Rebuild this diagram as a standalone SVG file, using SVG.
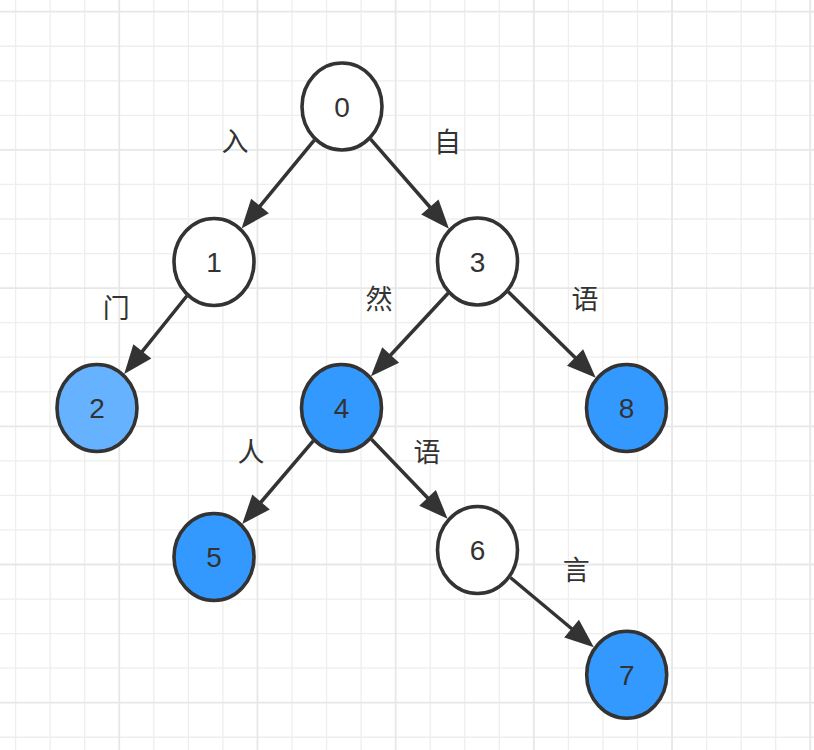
<svg xmlns="http://www.w3.org/2000/svg" width="814" height="750" viewBox="0 0 814 750">
<style>
.minor{stroke:#eeeeee;stroke-width:1.3;fill:none}
.major{stroke:#e7e7e7;stroke-width:1.8;fill:none}
.node ellipse{stroke:#333333;stroke-width:3.6}
.white{fill:#ffffff}
.blue{fill:#3399ff}
.light{fill:#66b2ff}
.num{font-family:"Liberation Sans",Arial,sans-serif;font-size:28px;fill:#333333;text-anchor:middle}
.edge{stroke:#333333;stroke-width:3.5;fill:none;marker-end:url(#arrow)}
.lbl{font-family:"Noto Sans CJK SC","Noto Sans CJK JP",sans-serif;font-size:27px;fill:#333333;text-anchor:middle}
</style>
<defs>
<marker id="arrow" markerUnits="userSpaceOnUse" markerWidth="32" markerHeight="26" refX="1" refY="11.5" orient="auto" overflow="visible">
<path d="M0,0 L29,11.5 L0,23 Z" fill="#333333"/>
</marker>
</defs>
<rect width="814" height="750" fill="#ffffff"/>
<g id="grid">
<path class="minor" d="M15.6,0V750M50.15,0V750M84.7,0V750M153.8,0V750M188.35,0V750M222.9,0V750M292,0V750M326.55,0V750M361.1,0V750M430.2,0V750M464.75,0V750M499.3,0V750M568.4,0V750M602.95,0V750M637.5,0V750M706.6,0V750M741.15,0V750M775.7,0V750M0,46.25H814M0,80.8H814M0,115.35H814M0,184.45H814M0,219H814M0,253.55H814M0,322.65H814M0,357.2H814M0,391.75H814M0,460.85H814M0,495.4H814M0,529.95H814M0,599.05H814M0,633.6H814M0,668.15H814M0,737.25H814"/>
<path class="major" d="M119.25,0V750M257.45,0V750M395.65,0V750M533.85,0V750M672.05,0V750M810.25,0V750M0,11.7H814M0,149.9H814M0,288.1H814M0,426.3H814M0,564.5H814M0,702.7H814"/>
</g>
<g id="connectors">
<line class="edge" x1="314.4" y1="140.1" x2="259.39" y2="206.78"/>
<line class="edge" x1="370.55" y1="139.16" x2="430.52" y2="207.76"/>
<line class="edge" x1="186.78" y1="295.97" x2="141.73" y2="352.18"/>
<line class="edge" x1="448.06" y1="293.21" x2="389.99" y2="355.77"/>
<line class="edge" x1="508.24" y1="291.72" x2="575.79" y2="358.15"/>
<line class="edge" x1="313.27" y1="440.98" x2="260.44" y2="502.75"/>
<line class="edge" x1="371.4" y1="439.21" x2="428.23" y2="498.57"/>
<line class="edge" x1="510.37" y1="577.47" x2="572.35" y2="629.27"/>
</g>
<g id="labels">
<text class="lbl" x="235" y="150.5">入</text>
<text class="lbl" x="447.5" y="151.5">自</text>
<text class="lbl" x="116.3" y="317.8">门</text>
<text class="lbl" x="379" y="308.8">然</text>
<text class="lbl" x="585" y="308.8">语</text>
<text class="lbl" x="251" y="461.5">人</text>
<text class="lbl" x="427" y="461.8">语</text>
<text class="lbl" x="576.3" y="579.8">言</text>
</g>
<g id="node0" class="node"><ellipse class="white" cx="342" cy="106.5" rx="40" ry="43.5"/><text class="num" x="342" y="116.5">0</text></g>
<g id="node1" class="node"><ellipse class="white" cx="214" cy="262" rx="40" ry="43.5"/><text class="num" x="214" y="272">1</text></g>
<g id="node3" class="node"><ellipse class="white" cx="477.5" cy="261.5" rx="40" ry="43.5"/><text class="num" x="477.5" y="271.5">3</text></g>
<g id="node2" class="node"><ellipse class="light" cx="97" cy="408" rx="40" ry="43.5"/><text class="num" x="97" y="418">2</text></g>
<g id="node4" class="node"><ellipse class="blue" cx="341.5" cy="408" rx="40" ry="43.5"/><text class="num" x="341.5" y="418">4</text></g>
<g id="node8" class="node"><ellipse class="blue" cx="626.5" cy="408" rx="40" ry="43.5"/><text class="num" x="626.5" y="418">8</text></g>
<g id="node5" class="node"><ellipse class="blue" cx="214" cy="557" rx="40" ry="43.5"/><text class="num" x="214" y="567">5</text></g>
<g id="node6" class="node"><ellipse class="white" cx="477.5" cy="550" rx="40" ry="43.5"/><text class="num" x="477.5" y="560">6</text></g>
<g id="node7" class="node"><ellipse class="blue" cx="626.7" cy="674.7" rx="40" ry="43.5"/><text class="num" x="626.7" y="684.7">7</text></g>
</svg>
